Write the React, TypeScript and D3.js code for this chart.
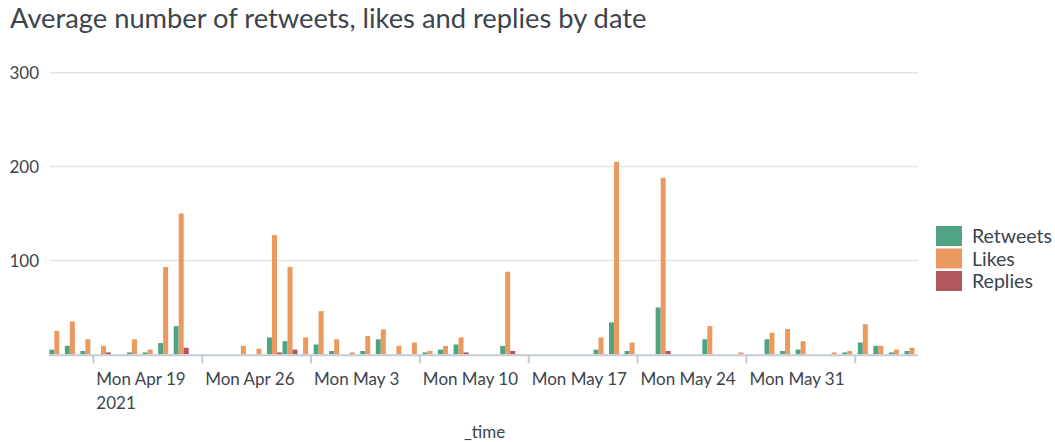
import React, { useEffect, useRef } from 'react';
import * as d3 from 'd3';

// Daily buckets, first one is Fri Apr 16 2021
const firstDay = new Date(2021, 3, 16);
const dayCount = 56;
const seriesNames = ['Retweets', 'Likes', 'Replies'];
const seriesColors = ['#4fa484', '#ec9960', '#af575a'];

const retweets = [
  5, 9, 3.5, 0, 0, 2, 2, 12, 30, 0, 0, 0, 0, 0, 18, 14, 0, 10.5, 3.5, 0,
  3.5, 16, 0, 0, 2, 5, 10.5, 0, 0, 9, 0, 0, 0, 0, 0, 5, 34, 3.5, 0, 50,
  0, 0, 16, 0, 0, 0, 16, 3.5, 5, 0, 0, 2, 12.5, 9, 2, 3.5,
];
const likes = [
  25, 35, 16, 9, 0, 16, 5, 93, 150, 0, 0, 0, 9, 6, 127, 93, 18, 46, 16, 2,
  19.5, 26.5, 9, 12.5, 3.5, 9, 18, 0, 0, 88, 0, 0, 0, 0, 0, 18, 205, 12.5, 0, 188,
  0, 0, 30, 0, 2, 0, 23, 27, 14, 0, 2, 3.5, 32, 9, 5, 7,
];
const replies = [
  0, 0, 0, 2, 0, 0, 0, 0, 7, 0, 0, 0, 0, 0, 2, 5, 0, 0, 0, 0,
  0, 0, 0, 0, 0, 0, 2, 0, 0, 3.5, 0, 0, 0, 0, 0, 0, 0, 0, 0, 3.5,
  0, 0, 0, 0, 0, 0, 0, 0, 0, 0, 0, 0, 0, 0, 0, 0,
];
const yTicks = [100, 200, 300];

const App = () => {
  const chartRef = useRef<SVGSVGElement>(null);

  useEffect(() => {
    const width = 1055;
    const height = 442;
    const margin = { top: 72.7, right: 135, bottom: 87.7, left: 49.3 };
    const textColor = '#3c444d';
    const font = 'Lato, sans-serif';

    const svg = d3.select(chartRef.current);
    svg.selectAll('*').remove();
    svg.attr('width', width).attr('height', height);

    // buckets are stamped a few hours after local midnight
    const shift = 4.3;
    const days = d3.range(dayCount).map((i) =>
      d3.timeHour.offset(d3.timeDay.offset(firstDay, i), shift)
    );
    const values = [retweets, likes, replies];

    const x = d3.scaleTime()
      .domain([days[0], d3.timeDay.offset(days[0], dayCount)])
      .range([margin.left, width - margin.right]);
    const dayW = x(days[1]) - x(days[0]);

    const x1 = d3.scaleBand()
      .domain(seriesNames)
      .range([0, dayW * 0.965]);

    const y = d3.scaleLinear()
      .domain([0, 300])
      .range([height - margin.bottom, margin.top]);

    // title
    svg.append('text')
      .attr('x', 10)
      .attr('y', 28)
      .attr('font-family', font)
      .attr('font-size', 27.3)
      .attr('fill', textColor)
      .text('Average number of retweets, likes and replies by date');

    // grid + y labels
    const grid = svg.append('g');
    grid.selectAll('line')
      .data(yTicks)
      .enter()
      .append('line')
      .attr('x1', margin.left)
      .attr('x2', width - margin.right - 2)
      .attr('y1', (d) => y(d))
      .attr('y2', (d) => y(d))
      .attr('stroke', '#e1e5ea')
      .attr('stroke-width', 1.5);
    grid.selectAll('text')
      .data(yTicks)
      .enter()
      .append('text')
      .attr('x', 39)
      .attr('y', (d) => y(d))
      .attr('dy', '0.36em')
      .attr('text-anchor', 'end')
      .attr('font-family', font)
      .attr('font-size', 17)
      .attr('fill', textColor)
      .text((d) => d);

    // bars
    const groups = svg.append('g')
      .selectAll('g')
      .data(days)
      .enter()
      .append('g')
      .attr('transform', (d) => `translate(${x(d)},0)`);
    groups.selectAll('rect')
      .data((_, i) => seriesNames.map((name, s) => ({ name, v: values[s][i], c: seriesColors[s] })))
      .enter()
      .filter((d) => d.v > 0)
      .append('rect')
      .attr('x', (d) => x1(d.name) as number)
      .attr('y', (d) => y(d.v))
      .attr('width', x1.bandwidth())
      .attr('height', (d) => y(0) - y(d.v))
      .attr('fill', (d) => d.c);

    // x axis
    const mondays = d3.timeMonday.range(days[0], d3.timeDay.offset(days[0], dayCount));
    const axis = svg.append('g');
    axis.append('line')
      .attr('x1', margin.left)
      .attr('x2', width - margin.right - 2)
      .attr('y1', y(0) + 1)
      .attr('y2', y(0) + 1)
      .attr('stroke', '#c3cbd4')
      .attr('stroke-width', 2);
    const ticks = axis.selectAll('g')
      .data(mondays)
      .enter()
      .append('g')
      .attr('transform', (d) => `translate(${x(d)},0)`);
    ticks.append('line')
      .attr('y1', y(0) + 1)
      .attr('y2', y(0) + 9)
      .attr('stroke', '#c3cbd4')
      .attr('stroke-width', 2);
    // last tick has no room for its label
    const fmt = d3.timeFormat('%a %b %-d');
    ticks.filter((_, i) => i < mondays.length - 1)
      .append('text')
      .attr('x', 3)
      .attr('y', 384.5)
      .attr('font-family', font)
      .attr('font-size', 17)
      .attr('fill', textColor)
      .text((d) => fmt(d));
    ticks.filter((_, i) => i === 0)
      .append('text')
      .attr('x', 3)
      .attr('y', 408.5)
      .attr('font-family', font)
      .attr('font-size', 17)
      .attr('fill', textColor)
      .text((d) => d3.timeFormat('%Y')(d));

    svg.append('text')
      .attr('x', (margin.left + width - margin.right) / 2)
      .attr('y', 438)
      .attr('text-anchor', 'middle')
      .attr('font-family', font)
      .attr('font-size', 17)
      .attr('fill', textColor)
      .text('_time');

    // legend
    const legend = svg.append('g')
      .selectAll('g')
      .data(seriesNames)
      .enter()
      .append('g')
      .attr('transform', (_, i) => `translate(936,${226 + i * 22.5})`);
    legend.append('rect')
      .attr('width', 26)
      .attr('height', 20)
      .attr('fill', (_, i) => seriesColors[i]);
    legend.append('text')
      .attr('x', 36)
      .attr('y', 10)
      .attr('dy', '0.36em')
      .attr('font-family', font)
      .attr('font-size', 19.5)
      .attr('fill', textColor)
      .text((d) => d);
  }, []);

  return <svg ref={chartRef} style={{ position: 'absolute', left: 0, top: 0 }}></svg>;
};

export default App;
